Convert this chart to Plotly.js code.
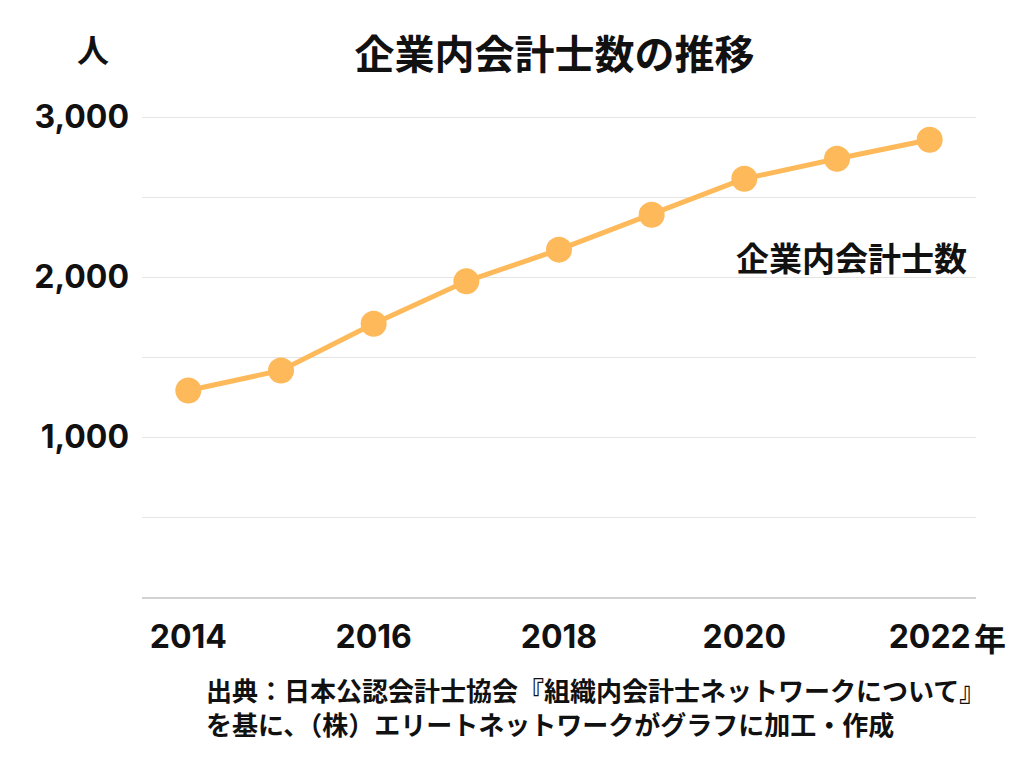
<!DOCTYPE html>
<html>
<head>
<meta charset="utf-8">
<script src="https://cdn.plot.ly/plotly-3.0.1.min.js"></script>
<style>html,body{margin:0;padding:0;background:#fff;}#chart{width:1024px;height:768px;}</style>
</head>
<body>
<div id="chart"></div>
<script>
const years = [2014, 2015, 2016, 2017, 2018, 2019, 2020, 2021, 2022];
const accountants = [1291, 1416, 1708, 1973, 2171, 2389, 2614, 2739, 2858];
const yTickVals = [500, 1000, 1500, 2000, 2500, 3000];
const yTickText = ['', '1,000', '', '2,000', '', '3,000'];
const xTickVals = [2014, 2016, 2018, 2020, 2022];
const xTickText = ['2014', '2016', '2018', '2020', '2022'];

const W = 1024, H = 768;
const M = {l: 142, r: 48, t: 101, b: 171};
const px = x => (x - M.l) / (W - M.l - M.r);
const py = y => (H - M.b - y) / (H - M.t - M.b);

const CJK = '"Noto Sans CJK JP", "Noto Sans", sans-serif';
const NUM = 'Inter, "Noto Sans CJK JP", sans-serif';

const trace = {
  x: years, y: accountants, type: 'scatter', mode: 'lines+markers',
  line: {color: 'rgb(253,185,90)', width: 5},
  marker: {color: 'rgb(253,185,90)', size: 26},
  hoverinfo: 'x+y', showlegend: false
};

const layout = {
  width: W, height: H,
  margin: M,
  paper_bgcolor: '#fff', plot_bgcolor: '#fff',
  title: {text: '企業内会計士数の推移', font: {family: CJK, size: 40, color: '#111', weight: 'bold'},
          x: 554.5 / W, xanchor: 'center', xref: 'container', y: 1 - 55 / H, yanchor: 'middle', yref: 'container'},
  xaxis: {range: [2013.5, 2022.5], tickvals: xTickVals, ticktext: xTickText,
          showgrid: false, zeroline: false, showline: true, linecolor: '#d2d2d2', linewidth: 2,
          ticks: '', ticklabelstandoff: 11,
          tickfont: {family: NUM, size: 32, color: '#111', weight: 'bold'}},
  yaxis: {range: [0, 3100], tickvals: yTickVals, ticktext: yTickText,
          showgrid: true, gridcolor: '#e4e4e4', gridwidth: 1, zeroline: false, showline: false,
          ticks: '', ticklabelstandoff: 12,
          tickfont: {family: NUM, size: 32, color: '#111', weight: 'bold'}},
  annotations: [
    {text: '人', xref: 'paper', yref: 'paper', x: px(93), y: py(48), xanchor: 'center', yanchor: 'middle',
     showarrow: false, font: {family: CJK, size: 32, color: '#111', weight: 'bold'}},
    {text: '年', xref: 'paper', yref: 'paper', x: px(972), y: py(637), xanchor: 'left', yanchor: 'middle',
     showarrow: false, font: {family: CJK, size: 32, color: '#111', weight: 'bold'}},
    {text: '企業内会計士数', xref: 'paper', yref: 'paper', x: px(969), y: py(257), xanchor: 'right', yanchor: 'middle',
     showarrow: false, font: {family: CJK, size: 33, color: '#111', weight: 'bold'}},
    {text: '出典：日本公認会計士協会『組織内会計士ネットワークについて』<br>を基に、（株）エリートネットワークがグラフに加工・作成',
     xref: 'paper', yref: 'paper', align: 'left',
     x: px(204), y: py(706), xanchor: 'left', yanchor: 'middle',
     showarrow: false, font: {family: CJK, size: 26, color: '#111', weight: 'bold'}}
  ]
};

Plotly.newPlot('chart', [trace], layout, {displayModeBar: false, staticPlot: true});
</script>
</body>
</html>
